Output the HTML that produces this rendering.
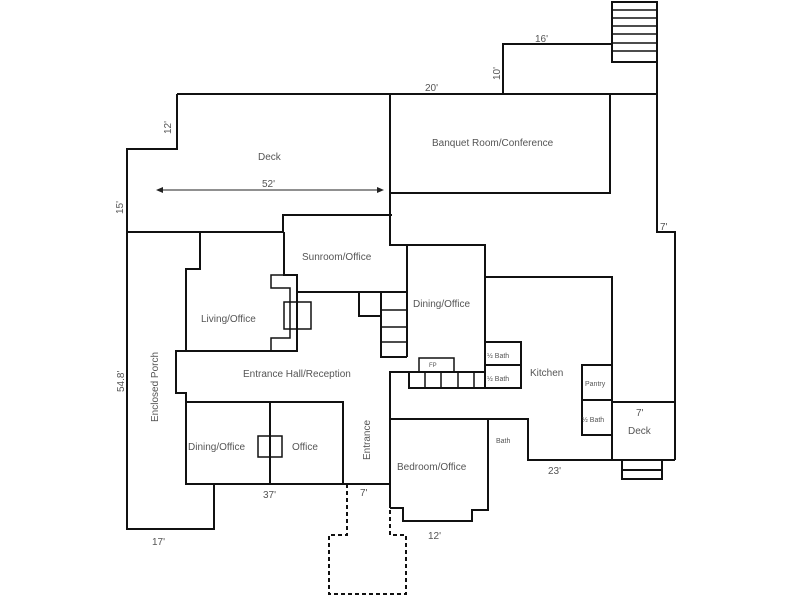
<!DOCTYPE html>
<html><head><meta charset="utf-8"><style>
html,body{margin:0;padding:0;background:#fff;}
svg{display:block;}
text{font-family:"Liberation Sans",sans-serif;fill:#555;font-size:10px;}
</style></head><body>
<svg width="800" height="600" viewBox="0 0 800 600" xmlns="http://www.w3.org/2000/svg">
<g fill="none" stroke="#111" stroke-width="2">
<!-- stairs top right -->
<rect x="612" y="2" width="45" height="60"/>
<path d="M612 10H657M612 18H657M612 26H657M612 34H657M612 43H657M612 51H657" stroke-width="1.5"/>
<!-- upper block -->
<path d="M503 94V44H612"/>
<path d="M657 62V232H675V460"/>
<!-- top line -->
<path d="M177 94H657"/>
<!-- deck outline -->
<path d="M177 94V149H127V529H214V484"/>
<path d="M127 232H283V215H392"/>
<!-- banquet -->
<path d="M390 94V245H485V277H612V402"/>
<path d="M390 193H610V94"/>
<!-- living/office -->
<path d="M200 232V269H186V351H297V275H284V232"/>
<path d="M284 275H271V288H290V338H271V351" stroke-width="1.5"/>
<rect x="284" y="302" width="27" height="27" stroke-width="1.5"/>
<line x1="297" y1="302" x2="297" y2="329" stroke-width="1"/>
<!-- sunroom bottom -->
<path d="M297 292H407"/>
<path d="M359 292V316H381"/>
<path d="M381 292V357H407"/>
<path d="M381 310H407M381 327H407M381 342H407" stroke-width="1.5"/>
<!-- dining/office -->
<path d="M407 245V357"/>
<path d="M485 277V372H390V508"/>
<rect x="485" y="342" width="36" height="46"/>
<path d="M485 365H521"/>
<path d="M409 372V388H485"/>
<path d="M425 372V388M441 372V388M458 372V388M474 372V388" stroke-width="1.5"/>
<rect x="419" y="358" width="35" height="14" stroke-width="1.5"/>
<!-- pantry -->
<rect x="582" y="365" width="30" height="70"/>
<path d="M582 400H612"/>
<!-- deck right -->
<path d="M612 402H675"/>
<path d="M612 402V460H675"/>
<rect x="622" y="460" width="40" height="19"/>
<path d="M622 470H662"/>
<!-- bedroom -->
<path d="M390 419H528V460H612"/>
<path d="M488 419V510H472V521H403V508H390"/>
<!-- entrance hall -->
<path d="M186 351H176V393H186V484H390"/>
<path d="M186 402H343V484"/>
<path d="M270 402V484"/>
<rect x="258" y="436" width="24" height="21" stroke-width="1.5"/>
</g>
<!-- dashed -->
<path d="M347 484V535H329V594H406V535H390V508" fill="none" stroke="#111" stroke-width="2" stroke-dasharray="4,3"/>
<!-- arrow 52' -->
<line x1="160" y1="190" x2="380" y2="190" stroke="#222" stroke-width="1"/>
<path d="M156 190L163 187V193Z M384 190L377 187V193Z" fill="#222"/>
<!-- labels -->
<text x="258" y="160">Deck</text>
<text x="262" y="187">52'</text>
<text x="432" y="146">Banquet Room/Conference</text>
<text x="425" y="91">20'</text>
<text x="535" y="42">16'</text>
<text x="660" y="230">7'</text>
<text x="302" y="260">Sunroom/Office</text>
<text x="201" y="322">Living/Office</text>
<text x="413" y="307">Dining/Office</text>
<text x="243" y="377">Entrance Hall/Reception</text>
<text x="530" y="376">Kitchen</text>
<text x="487" y="358" style="font-size:7px">½ Bath</text>
<text x="487" y="381" style="font-size:7px">½ Bath</text>
<text x="585" y="386" style="font-size:7px">Pantry</text>
<text x="582" y="422" style="font-size:7px">½ Bath</text>
<text x="496" y="443" style="font-size:7px">Bath</text>
<text x="429" y="367" style="font-size:6px">FP</text>
<text x="636" y="416">7'</text>
<text x="628" y="434">Deck</text>
<text x="188" y="450">Dining/Office</text>
<text x="292" y="450">Office</text>
<text x="397" y="470">Bedroom/Office</text>
<text x="548" y="474">23'</text>
<text x="263" y="498">37'</text>
<text x="360" y="496">7'</text>
<text x="428" y="539">12'</text>
<text x="152" y="545">17'</text>
<text transform="translate(123,214) rotate(-90)">15'</text>
<text transform="translate(171,134) rotate(-90)">12'</text>
<text transform="translate(500,80) rotate(-90)">10'</text>
<text transform="translate(124,392) rotate(-90)">54.8'</text>
<text transform="translate(158,422) rotate(-90)">Enclosed Porch</text>
<text transform="translate(370,460) rotate(-90)">Entrance</text>
</svg>
</body></html>
